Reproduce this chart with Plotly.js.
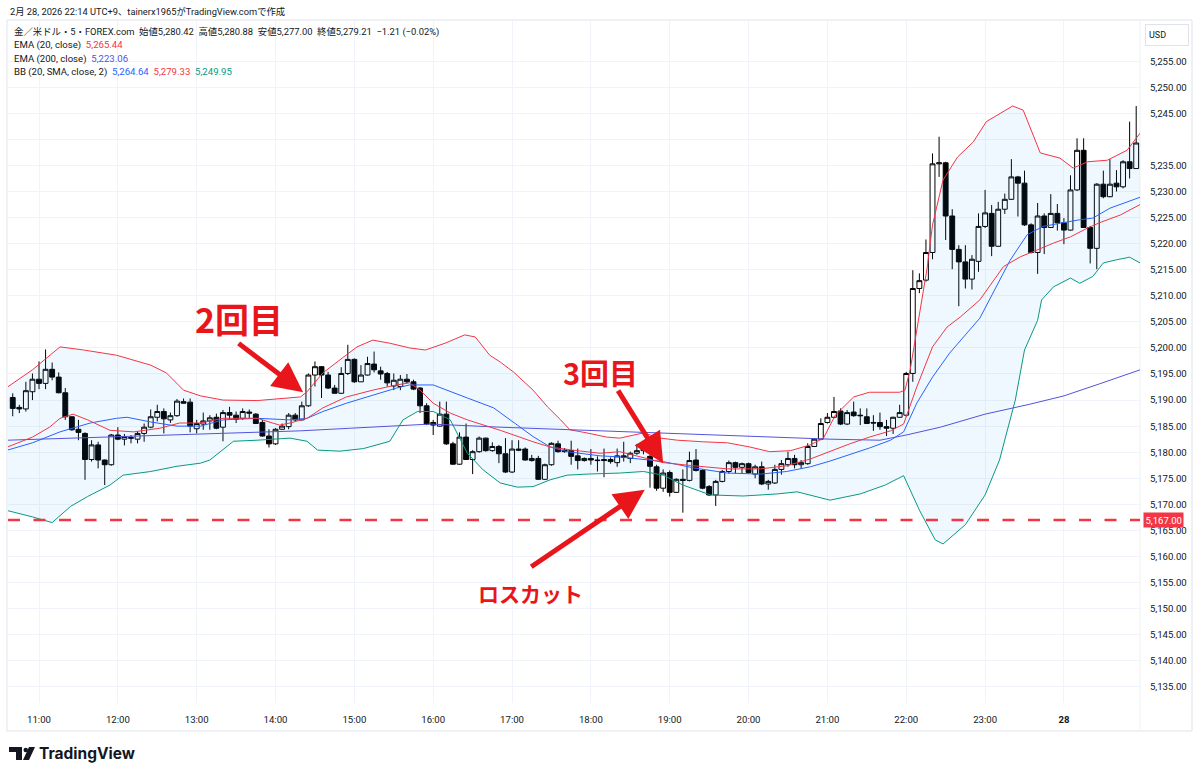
<!DOCTYPE html>
<html>
<head>
<meta charset="utf-8">
<script src="https://cdn.plot.ly/plotly-3.0.1.min.js"></script>
<style>
  html, body { margin: 0; padding: 0; background: #ffffff; }
  #chart { width: 1200px; height: 777px; }
</style>
</head>
<body>
<div id="chart"></div>
<script>
// ---------------- DATA (5-minute bars, 金／米ドル FOREX.com) ----------------
const FIRST_BAR = "10:40";
const BAR_MINUTES = 5;

const opens = [
  5190.5, 5188.6, 5188.3, 5191.6,
  5194.0, 5193.2, 5195.9, 5194.4, 5191.4, 5186.8, 5184.4, 5183.6, 5178.6, 5181.4, 5178.5, 5177.6,
  5183.3, 5182.5, 5182.8, 5182.5, 5183.6, 5184.8, 5186.7, 5187.8, 5186.2, 5187.0, 5189.7, 5189.6,
  5184.5, 5185.4, 5186.0, 5186.7, 5184.8, 5187.6, 5187.1, 5186.5, 5187.7, 5187.3, 5185.7, 5183.1,
  5181.6, 5184.4, 5184.9, 5187.1, 5186.2, 5188.9, 5194.8, 5196.4, 5194.8, 5192.3, 5191.3, 5195.1,
  5197.8, 5193.5, 5194.8, 5196.9, 5195.6, 5195.1, 5192.7, 5192.6, 5194.0, 5193.5, 5192.3, 5188.9,
  5185.7, 5185.0, 5187.3, 5181.6, 5177.7, 5182.9, 5178.6, 5180.1, 5182.7, 5180.3, 5181.1, 5179.7,
  5176.2, 5180.6, 5180.6, 5178.4, 5178.8, 5174.8, 5177.6, 5181.6, 5180.4, 5180.3, 5179.3, 5178.4,
  5178.8, 5178.5, 5178.6, 5178.6, 5178.0, 5179.3, 5178.8, 5179.8, 5180.3, 5179.2, 5177.2, 5173.1,
  5176.1, 5172.3, 5174.8, 5174.6, 5178.5, 5176.5, 5173.4, 5171.8, 5174.4, 5176.3, 5178.0, 5177.1,
  5177.8, 5175.8, 5177.2, 5173.9, 5174.1, 5176.7, 5177.6, 5178.8, 5177.6, 5177.8, 5181.1, 5182.5,
  5185.7, 5186.7, 5187.9, 5185.4, 5187.7, 5187.1, 5186.8, 5185.7, 5185.7, 5184.9, 5184.6, 5186.7,
  5187.1, 5195.1, 5211.4, 5213.0, 5218.3, 5235.3, 5235.5, 5225.3, 5218.9, 5216.5, 5213.2, 5216.6,
  5223.3, 5225.8, 5219.5, 5226.6, 5228.5, 5232.8, 5231.6, 5223.6, 5218.3, 5225.3, 5223.1, 5225.8,
  5224.0, 5222.6, 5230.3, 5237.9, 5223.1, 5219.1, 5231.4, 5229.0, 5231.6, 5230.9, 5235.7, 5234.4
];
const highs = [
  5191.3, 5189.1, 5193.5, 5195.1,
  5197.4, 5199.7, 5197.2, 5195.3, 5192.3, 5186.9, 5186.2, 5183.8, 5182.3, 5182.0, 5178.6, 5183.5,
  5184.8, 5183.5, 5183.3, 5184.0, 5185.5, 5188.2, 5189.1, 5188.4, 5187.6, 5190.2, 5190.3, 5190.3,
  5186.2, 5187.6, 5187.1, 5187.4, 5188.1, 5188.7, 5187.8, 5188.4, 5188.2, 5187.5, 5186.2, 5184.4,
  5184.6, 5185.5, 5187.5, 5187.5, 5189.7, 5195.1, 5197.4, 5196.5, 5195.4, 5192.9, 5196.3, 5200.6,
  5198.0, 5196.7, 5198.3, 5199.3, 5196.4, 5195.4, 5195.1, 5194.8, 5195.0, 5193.9, 5192.5, 5189.4,
  5186.2, 5189.7, 5189.7, 5182.0, 5183.8, 5185.5, 5180.4, 5183.0, 5182.8, 5181.9, 5181.4, 5182.7,
  5182.3, 5182.3, 5180.9, 5179.5, 5179.3, 5177.8, 5181.9, 5182.2, 5180.8, 5182.2, 5180.7, 5179.0,
  5180.6, 5179.2, 5180.7, 5179.0, 5180.7, 5182.0, 5180.1, 5181.6, 5181.4, 5179.6, 5177.6, 5176.7,
  5176.5, 5175.0, 5176.7, 5180.1, 5180.6, 5176.7, 5173.7, 5174.7, 5176.6, 5178.4, 5178.2, 5178.0,
  5178.0, 5177.6, 5178.2, 5174.7, 5177.6, 5178.5, 5180.1, 5179.5, 5178.5, 5181.7, 5182.7, 5186.5,
  5187.5, 5190.6, 5188.4, 5188.1, 5189.7, 5188.4, 5188.4, 5187.1, 5187.6, 5186.2, 5186.8, 5189.1,
  5195.4, 5214.9, 5214.3, 5220.8, 5237.3, 5240.5, 5235.7, 5226.6, 5219.7, 5219.7, 5217.8, 5225.8,
  5230.3, 5227.4, 5228.0, 5229.6, 5236.2, 5233.0, 5234.0, 5223.9, 5227.8, 5225.8, 5229.5, 5227.6,
  5224.9, 5233.1, 5240.2, 5240.2, 5223.4, 5231.6, 5234.0, 5236.2, 5234.1, 5236.0, 5243.4, 5246.4
];
const lows = [
  5186.9, 5187.5, 5187.8, 5190.0,
  5192.1, 5192.1, 5193.8, 5191.3, 5186.2, 5184.1, 5182.3, 5174.7, 5178.2, 5176.9, 5173.7, 5177.4,
  5182.3, 5181.3, 5181.7, 5181.7, 5182.0, 5184.6, 5185.9, 5183.6, 5185.6, 5186.8, 5189.4, 5183.8,
  5183.6, 5184.3, 5184.3, 5184.4, 5182.1, 5186.2, 5185.6, 5186.2, 5186.5, 5185.4, 5183.0, 5180.9,
  5181.4, 5184.3, 5184.4, 5185.9, 5186.1, 5188.7, 5192.6, 5190.4, 5192.1, 5191.2, 5191.2, 5194.8,
  5193.3, 5193.5, 5194.7, 5195.3, 5193.9, 5192.6, 5191.9, 5191.9, 5193.2, 5191.9, 5187.5, 5185.2,
  5183.3, 5184.9, 5181.4, 5177.6, 5177.6, 5178.5, 5175.8, 5179.9, 5180.1, 5180.1, 5177.9, 5176.0,
  5176.0, 5180.2, 5178.4, 5178.2, 5174.7, 5174.7, 5177.4, 5179.9, 5179.9, 5177.6, 5176.7, 5178.2,
  5177.6, 5176.3, 5175.2, 5177.8, 5177.2, 5178.2, 5177.9, 5179.5, 5179.6, 5173.2, 5172.6, 5172.4,
  5171.5, 5172.2, 5168.4, 5174.4, 5176.3, 5172.9, 5171.6, 5169.7, 5174.2, 5175.9, 5175.9, 5175.9,
  5175.9, 5175.0, 5173.7, 5172.8, 5173.9, 5175.7, 5177.2, 5176.9, 5176.9, 5177.6, 5181.0, 5182.3,
  5185.5, 5186.5, 5185.2, 5185.2, 5186.8, 5185.2, 5185.4, 5184.1, 5184.3, 5183.1, 5183.5, 5186.6,
  5186.8, 5193.5, 5210.5, 5212.7, 5217.0, 5232.8, 5220.7, 5215.1, 5208.0, 5211.4, 5211.2, 5214.6,
  5223.0, 5217.6, 5219.4, 5225.7, 5228.4, 5225.2, 5223.4, 5218.1, 5214.2, 5218.0, 5223.0, 5222.5,
  5219.9, 5222.5, 5230.1, 5223.0, 5216.2, 5215.1, 5228.7, 5228.9, 5230.0, 5230.6, 5232.5, 5234.4
];
const closes = [
  5188.4, 5188.3, 5191.8, 5194.0,
  5193.2, 5195.9, 5194.4, 5191.4, 5186.8, 5184.3, 5183.8, 5178.6, 5181.4, 5178.5, 5177.6, 5183.3,
  5182.5, 5183.0, 5182.7, 5183.6, 5184.8, 5186.8, 5187.8, 5186.4, 5187.0, 5189.8, 5189.4, 5185.0,
  5185.5, 5186.0, 5186.6, 5184.6, 5187.6, 5187.1, 5186.3, 5187.8, 5187.5, 5185.5, 5183.1, 5181.6,
  5184.4, 5185.0, 5187.1, 5186.2, 5188.9, 5194.8, 5196.4, 5194.8, 5192.3, 5191.3, 5195.1, 5197.8,
  5193.5, 5194.8, 5197.0, 5195.8, 5195.0, 5193.3, 5193.8, 5194.0, 5193.5, 5192.1, 5188.9, 5185.4,
  5185.2, 5187.3, 5181.6, 5177.7, 5182.9, 5178.6, 5180.1, 5182.7, 5180.3, 5181.1, 5179.7, 5176.2,
  5180.6, 5180.4, 5178.5, 5178.8, 5174.8, 5177.6, 5181.7, 5180.1, 5180.1, 5179.2, 5178.4, 5178.8,
  5178.5, 5178.4, 5178.4, 5178.2, 5179.3, 5179.0, 5179.8, 5180.3, 5180.6, 5177.3, 5173.1, 5176.0,
  5172.3, 5174.8, 5174.6, 5178.4, 5176.5, 5173.1, 5171.8, 5174.4, 5176.3, 5178.0, 5177.1, 5177.8,
  5176.1, 5177.2, 5173.9, 5174.4, 5176.7, 5177.8, 5178.8, 5177.6, 5178.0, 5181.1, 5182.5, 5185.5,
  5186.7, 5187.8, 5185.4, 5187.6, 5187.0, 5187.0, 5185.5, 5185.6, 5184.9, 5184.6, 5186.7, 5187.6,
  5195.1, 5211.4, 5212.9, 5218.3, 5235.3, 5235.5, 5225.3, 5218.9, 5216.5, 5213.2, 5217.0, 5223.3,
  5225.9, 5219.5, 5226.6, 5228.5, 5232.8, 5231.6, 5223.6, 5218.3, 5225.3, 5223.1, 5225.8, 5224.0,
  5222.6, 5230.3, 5237.9, 5223.1, 5219.1, 5231.4, 5229.0, 5231.4, 5230.9, 5235.7, 5234.4, 5239.3
];

// Indicator lines (time, value)
const bbUpperTimes = ["10:36","10:55","11:16","11:34","11:59","12:25","12:37","12:50","13:03","13:20","13:46","14:11","14:19","14:24","14:36","14:51","15:02","15:14","15:27","15:42","15:54","16:09","16:24","16:32","16:43","16:51","17:01","17:16","17:27","17:37","17:44","17:57","18:12","18:22","18:40","18:53","19:06","19:25","19:44","20:01","20:16","20:32","20:47","20:57","21:06","21:20","21:32","21:55","21:59","22:03","22:08","22:16","22:20","22:28","22:39","22:51","23:01","23:21","23:29","23:34","23:42","23:57","00:07","00:18","00:33","00:48","00:58"];
const bbUpper = [5192.5,5195.8,5200.2,5199.6,5198.6,5196.7,5195.2,5191.9,5190.8,5190.0,5189.9,5190.4,5190.6,5191.6,5195.2,5198.1,5200.2,5201.5,5200.9,5200.0,5199.6,5200.9,5202.5,5202.1,5198.6,5197.3,5195.4,5191.9,5188.7,5186.2,5184.3,5183.7,5182.9,5182.7,5183.7,5182.7,5182.3,5182.0,5181.8,5181.0,5180.1,5180.3,5181.4,5182.7,5187.1,5190.6,5191.5,5191.5,5191.9,5195.8,5203.4,5215.5,5223.6,5232.2,5236.6,5239.5,5243.4,5246.4,5245.6,5242.4,5237.4,5236.4,5234.5,5235.7,5236.0,5237.9,5241.2];

const bbLowerTimes = ["10:36","10:55","11:10","11:24","11:37","11:54","12:04","12:25","12:45","13:03","13:10","13:28","13:46","14:11","14:24","14:32","14:49","15:07","15:27","15:37","15:48","16:00","16:13","16:26","16:38","16:51","17:04","17:16","17:29","17:42","17:57","18:22","18:40","18:55","19:10","19:31","19:56","20:22","20:37","20:52","21:02","21:25","21:44","21:58","22:10","22:22","22:28","22:45","23:00","23:11","23:23","23:30","23:40","23:43","23:52","00:05","00:12","00:22","00:30","00:40","00:50","00:58"];
const bbLower = [5168.8,5167.6,5166.5,5169.6,5171.5,5173.7,5175.6,5176.3,5177.3,5177.9,5178.5,5182.1,5182.3,5182.7,5182.1,5180.4,5180.2,5180.7,5182.1,5186.2,5187.8,5187.8,5186.2,5179.8,5176.6,5174.1,5173.3,5173.4,5174.7,5175.6,5175.8,5176.0,5176.3,5175.6,5173.7,5171.8,5171.6,5172.0,5172.4,5171.5,5170.8,5172.0,5173.7,5175.5,5168.9,5163.2,5162.4,5166.1,5171.8,5178.5,5190.0,5199.6,5205.3,5209.2,5211.7,5213.4,5212.4,5213.7,5216.3,5216.9,5217.4,5216.3];

const bbBasisTimes = ["10:36","10:55","11:16","11:39","11:59","12:07","12:25","12:45","13:03","13:20","13:46","14:11","14:24","14:36","14:54","15:14","15:32","15:42","16:00","16:26","16:46","17:04","17:16","17:29","17:42","18:07","18:22","18:55","19:18","19:44","20:09","20:29","20:47","21:02","21:17","21:32","21:48","21:58","22:08","22:20","22:33","22:46","22:56","23:19","23:32","23:44","00:10","00:22","00:35","00:58"];
const bbBasis = [5180.4,5181.8,5183.9,5185.6,5186.5,5186.7,5185.8,5185.0,5185.0,5186.2,5186.5,5186.2,5186.5,5187.8,5189.4,5191.0,5192.3,5192.9,5192.9,5190.4,5188.5,5185.2,5183.0,5181.0,5180.1,5179.3,5179.1,5178.2,5177.0,5176.0,5175.8,5176.3,5177.2,5178.3,5179.5,5180.8,5182.3,5183.9,5189.4,5194.4,5199.0,5202.8,5205.7,5216.8,5221.7,5223.3,5224.5,5224.9,5226.8,5228.9];

const ema20Times = ["10:36","10:55","11:08","11:16","11:26","11:37","11:54","12:12","12:32","12:47","13:03","13:20","13:46","14:03","14:11","14:24","14:36","14:54","15:14","15:32","15:42","15:50","16:00","16:13","16:26","16:51","17:16","17:29","17:46","18:07","18:22","18:55","19:18","19:44","20:09","20:29","20:47","21:02","21:17","21:32","21:48","21:58","22:08","22:20","22:31","22:41","22:56","23:14","23:27","23:36","23:52","00:05","00:18","00:27","00:43","00:58"];
const ema20 = [5181.0,5182.9,5184.8,5186.5,5187.3,5186.2,5184.2,5183.9,5184.6,5185.6,5185.6,5186.5,5186.5,5185.2,5185.6,5186.5,5188.5,5190.6,5191.9,5192.9,5193.3,5191.9,5189.4,5187.5,5186.2,5184.2,5182.0,5181.0,5180.4,5179.8,5180.1,5178.0,5177.4,5176.8,5176.8,5177.4,5178.7,5180.2,5181.6,5182.9,5184.1,5185.4,5192.5,5200.2,5204.0,5205.9,5209.2,5215.6,5217.5,5218.4,5220.1,5221.3,5223.0,5224.0,5225.5,5227.5];

const ema200Times = ["10:36","11:00","11:59","13:03","14:19","14:57","15:42","15:58","16:51","18:07","19:23","20:39","21:02","21:40","22:00","22:26","23:00","23:34","00:00","00:27","00:58"];
const ema200 = [5182.3,5182.5,5182.9,5183.5,5184.1,5184.6,5185.2,5185.4,5184.8,5184.1,5183.5,5182.7,5182.5,5182.3,5183.3,5184.8,5187.3,5189.2,5190.8,5193.1,5195.8];

const STOP_LOSS = 5167.00;

// Axis ticks
const xTickTimes  = ["11:00","12:00","13:00","14:00","15:00","16:00","17:00","18:00","19:00","20:00","21:00","22:00","23:00","24:00"];
const xTickLabels = ["11:00","12:00","13:00","14:00","15:00","16:00","17:00","18:00","19:00","20:00","21:00","22:00","23:00","<b>28</b>"];
const yTickValues = [5135,5140,5145,5150,5155,5160,5165,5170,5175,5180,5185,5190,5195,5200,5205,5210,5215,5220,5225,5230,5235,5240,5245,5250,5255];
const yTickHidden = [5240];

// Annotation markers (text, where the arrow points)
const markTexts = ["2回目", "3回目", "ロスカット"];
const markTargets = [["14:21", 5191.5], ["18:55", 5177.9], ["18:41", 5172.8]];

// ---------------- helpers ----------------
function tmin(s) {
  const [h, m] = s.split(':').map(Number);
  return (h < 10 ? h + 24 : h) * 60 + m;
}
const PLOT_L = 8, PLOT_R = 1140, PLOT_T = 21, PLOT_B = 703;
const PX = px => (px - PLOT_L) / (PLOT_R - PLOT_L);
const PY = py => (PLOT_B - py) / (PLOT_B - PLOT_T);
const fmt = v => v.toLocaleString('en-US', {minimumFractionDigits: 2, maximumFractionDigits: 2});

const RED = '#F23645', BLUE = '#2962FF', GREEN = '#089981', PURPLE = '#5353dc';
const ANN_RED = '#E8161B';
const INK = '#131722';
const UI_FONT = "Roboto, 'Noto Sans CJK JP', sans-serif";
const JP_FONT = "'Noto Sans CJK JP', Roboto, sans-serif";

const barX = opens.map((_, i) => tmin(FIRST_BAR) + i * BAR_MINUTES);

const line = (times, vals, color, extra) => Object.assign({
  type: 'scatter', mode: 'lines', x: times.map(tmin), y: vals,
  line: {color: color, width: 1}, hoverinfo: 'skip'
}, extra || {});

const traces = [
  line(bbLowerTimes, bbLower, GREEN),
  line(bbUpperTimes, bbUpper, RED, {fill: 'tonexty', fillcolor: 'rgba(33,150,243,0.07)'}),
  line(bbBasisTimes, bbBasis, BLUE),
  line(ema200Times, ema200, PURPLE),
  line(ema20Times, ema20, RED),
  {
    type: 'candlestick', x: barX, open: opens, high: highs, low: lows, close: closes,
    increasing: {line: {color: '#000000', width: 1}, fillcolor: '#ffffff'},
    decreasing: {line: {color: '#000000', width: 1}, fillcolor: '#000000'},
    whiskerwidth: 0, hoverinfo: 'skip'
  }
];

const annotations = [
  {xref: 'paper', yref: 'paper', x: PX(8), y: PY(11), xanchor: 'left', yanchor: 'middle', showarrow: false,
   text: '2月 28, 2026 22:14 UTC+9、tainerx1965がTradingView.comで作成', font: {family: UI_FONT, size: 9.3, color: INK}},
  {xref: 'paper', yref: 'paper', x: PX(12), y: PY(32), xanchor: 'left', yanchor: 'middle', showarrow: false,
   text: '金／米ドル・5・FOREX.com\u00a0\u00a0始値5,280.42\u00a0\u00a0高値5,280.88\u00a0\u00a0安値5,277.00\u00a0\u00a0終値5,279.21\u00a0\u00a0−1.21 (−0.02%)',
   font: {family: UI_FONT, size: 9.4, color: INK}},
  {xref: 'paper', yref: 'paper', x: PX(12), y: PY(45.5), xanchor: 'left', yanchor: 'middle', showarrow: false,
   text: 'EMA (20, close)\u00a0\u00a0<span style="color:' + RED + '">5,265.44</span>', font: {family: UI_FONT, size: 9.6, color: INK}},
  {xref: 'paper', yref: 'paper', x: PX(12), y: PY(59), xanchor: 'left', yanchor: 'middle', showarrow: false,
   text: 'EMA (200, close)\u00a0\u00a0<span style="color:' + PURPLE + '">5,223.06</span>', font: {family: UI_FONT, size: 9.6, color: INK}},
  {xref: 'paper', yref: 'paper', x: PX(12), y: PY(72), xanchor: 'left', yanchor: 'middle', showarrow: false,
   text: 'BB (20, SMA, close, 2)\u00a0\u00a0<span style="color:' + BLUE + '">5,264.64</span>\u00a0\u00a0<span style="color:' + RED + '">5,279.33</span>\u00a0\u00a0<span style="color:' + GREEN + '">5,249.95</span>',
   font: {family: UI_FONT, size: 9.6, color: INK}},
  {xref: 'paper', yref: 'paper', x: PX(1145), y: PY(35), xanchor: 'left', yanchor: 'middle', showarrow: false,
   text: 'USD', align: 'left', width: 36, height: 14, borderpad: 3, bordercolor: '#e0e3eb', borderwidth: 1, bgcolor: '#ffffff',
   font: {family: UI_FONT, size: 9, color: INK}},
  {xref: 'paper', yref: 'y', x: PX(1143), y: STOP_LOSS, xanchor: 'left', yanchor: 'middle', showarrow: false,
   text: fmt(STOP_LOSS), bgcolor: RED, borderpad: 1.5, font: {family: UI_FONT, size: 9.5, color: '#ffffff'}},
  // big red labels
  {xref: 'paper', yref: 'paper', x: PX(239), y: PY(319), xanchor: 'center', yanchor: 'middle', showarrow: false,
   text: '<b>' + markTexts[0] + '</b>', font: {family: JP_FONT, size: 34, color: ANN_RED, weight: 'bold'}},
  {xref: 'paper', yref: 'paper', x: PX(600), y: PY(372), xanchor: 'center', yanchor: 'middle', showarrow: false,
   text: '<b>' + markTexts[1] + '</b>', font: {family: JP_FONT, size: 29, color: ANN_RED, weight: 'bold'}},
  {xref: 'paper', yref: 'paper', x: PX(530), y: PY(593), xanchor: 'center', yanchor: 'middle', showarrow: false,
   text: '<b>' + markTexts[2] + '</b>', font: {family: JP_FONT, size: 21, color: ANN_RED, weight: 'bold'}},
  // arrows
  {xref: 'x', yref: 'y', x: tmin(markTargets[0][0]), y: markTargets[0][1], ax: -66, ay: -50, text: '', showarrow: true,
   arrowhead: 2, arrowsize: 1.2, arrowwidth: 5, arrowcolor: ANN_RED, standoff: 0},
  {xref: 'x', yref: 'y', x: tmin(markTargets[1][0]), y: markTargets[1][1], ax: -46, ay: -74, text: '', showarrow: true,
   arrowhead: 2, arrowsize: 1.2, arrowwidth: 5, arrowcolor: ANN_RED, standoff: 0},
  {xref: 'x', yref: 'y', x: tmin(markTargets[2][0]), y: markTargets[2][1], ax: -115, ay: 78, text: '', showarrow: true,
   arrowhead: 2, arrowsize: 1.2, arrowwidth: 5, arrowcolor: ANN_RED, standoff: 0},
  // TradingView wordmark
  {xref: 'paper', yref: 'paper', x: PX(37), y: PY(753), xanchor: 'left', yanchor: 'middle', showarrow: false,
   text: '<b>TradingView</b>', font: {family: "Inter, Roboto, sans-serif", size: 15.5, color: INK}}
];

const shapes = [
  // stop-loss dashed line
  {type: 'line', xref: 'paper', yref: 'y', x0: 0, x1: 1, y0: STOP_LOSS, y1: STOP_LOSS,
   line: {color: RED, width: 2.5, dash: '12px,13.5px'}, layer: 'above'},
  // chart frame
  {type: 'rect', xref: 'paper', yref: 'paper', x0: PX(7), x1: PX(1192), y0: PY(731), y1: PY(20),
   line: {color: '#e0e3eb', width: 1}, fillcolor: 'rgba(0,0,0,0)', layer: 'below'},
  {type: 'line', xref: 'paper', yref: 'paper', x0: 1, x1: 1, y0: PY(731), y1: PY(20),
   line: {color: '#eef0f4', width: 1}, layer: 'below'},
  // TradingView logo mark
  {type: 'rect', xref: 'paper', yref: 'paper', x0: PX(9), x1: PX(22), y0: PY(752), y1: PY(747),
   fillcolor: INK, line: {width: 0}},
  {type: 'rect', xref: 'paper', yref: 'paper', x0: PX(16), x1: PX(22), y0: PY(760), y1: PY(747),
   fillcolor: INK, line: {width: 0}},
  {type: 'circle', xref: 'paper', yref: 'paper', x0: PX(23.5), x1: PX(28), y0: PY(752.3), y1: PY(747.7),
   fillcolor: INK, line: {width: 0}},
  {type: 'path', xref: 'paper', yref: 'paper',
   path: 'M' + PX(29) + ',' + PY(747) + ' L' + PX(35) + ',' + PY(747) + ' L' + PX(29) + ',' + PY(760) + ' L' + PX(23) + ',' + PY(760) + ' Z',
   fillcolor: INK, line: {width: 0}}
];

const layout = {
  width: 1200, height: 777,
  margin: {l: PLOT_L, r: 1200 - PLOT_R, t: PLOT_T, b: 777 - PLOT_B},
  paper_bgcolor: '#ffffff', plot_bgcolor: '#ffffff',
  showlegend: false, hovermode: false,
  boxgap: 0.26, boxgroupgap: 0,
  xaxis: {
    type: 'linear', range: [tmin("10:36") + 0.4, tmin("00:57") + 0.9],
    tickmode: 'array', tickvals: xTickTimes.map(tmin), ticktext: xTickLabels,
    showgrid: true, gridcolor: '#f0f3fa', gridwidth: 1, zeroline: false, showline: false,
    ticks: 'outside', ticklen: 7, tickcolor: 'rgba(0,0,0,0)',
    tickfont: {family: UI_FONT, size: 9.6, color: INK},
    rangeslider: {visible: false}, fixedrange: true
  },
  yaxis: {
    side: 'right', range: [5131.9, 5262.7],
    tickmode: 'array', tickvals: yTickValues,
    ticktext: yTickValues.map(v => yTickHidden.includes(v) ? '' : fmt(v)),
    showgrid: true, gridcolor: '#f0f3fa', gridwidth: 1, zeroline: false, showline: false,
    ticks: 'outside', ticklen: 7, tickcolor: 'rgba(0,0,0,0)',
    tickfont: {family: UI_FONT, size: 9.6, color: INK}, fixedrange: true
  },
  annotations: annotations,
  shapes: shapes
};

Plotly.newPlot('chart', traces, layout, {displayModeBar: false, staticPlot: true});
</script>
</body>
</html>
